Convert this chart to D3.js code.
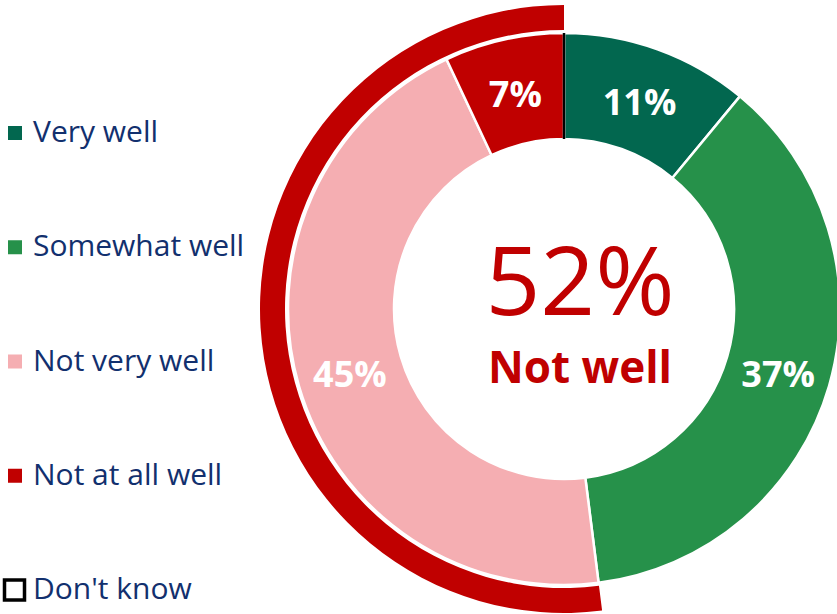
<!DOCTYPE html>
<html>
<head>
  <meta charset="utf-8">
  <title>Not well</title>
  <script src="https://d3js.org/d3.v7.min.js"></script>
  <style>
    body { margin: 0; background: #fff; }
    svg { display: block; }
  </style>
</head>
<body>
<svg width="837" height="614"></svg>
<script>
  const categories = ['Very well', 'Somewhat well', 'Not very well', 'Not at all well', "Don't know"];
  const values = [11, 37, 45, 7, 0];
  const colors = ['#02674f', '#26914a', '#f5aeb2', '#c00000', '#ffffff'];
  const totalLabel = '52%';
  const totalCaption = 'Not well';

  const svg = d3.select('svg');
  const cx = 564, cy = 309;
  const inner = 170, outer = 276;

  const data = categories.map((c, i) => ({ cat: c, value: values[i], color: colors[i] }));

  const pie = d3.pie().value(d => d.value).sort(null);
  const arcs = pie(data);
  const arc = d3.arc().innerRadius(inner).outerRadius(outer);

  const g = svg.append('g').attr('transform', `translate(${cx},${cy})`);

  g.selectAll('path.slice')
    .data(arcs.filter(d => d.data.value > 0))
    .enter().append('path')
    .attr('class', 'slice')
    .attr('d', arc)
    .attr('fill', d => d.data.color)
    .attr('stroke', '#fff')
    .attr('stroke-width', 2.5);

  // don't know slice is zero; shows as a black edge at the top
  g.append('line')
    .attr('x1', 0).attr('x2', 0)
    .attr('y1', -inner).attr('y2', -outer)
    .attr('stroke', '#000')
    .attr('stroke-width', 2.5);

  // outer ring around the "not well" slices
  const notWell = arcs.filter(d => d.data.cat === 'Not very well' || d.data.cat === 'Not at all well');
  g.append('path')
    .attr('d', d3.arc().innerRadius(279).outerRadius(304)({
      startAngle: d3.min(notWell, d => d.startAngle),
      endAngle: d3.max(notWell, d => d.endAngle)
    }))
    .attr('fill', '#c00000');

  const labelArc = d3.arc().innerRadius(inner).outerRadius(outer);
  g.selectAll('text.pct')
    .data(arcs.filter(d => d.data.value > 0))
    .enter().append('text')
    .attr('class', 'pct')
    .attr('transform', d => {
      const c = labelArc.centroid(d);
      return `translate(${c[0]},${c[1] + 6})`;
    })
    .attr('text-anchor', 'middle')
    .attr('dominant-baseline', 'middle')
    .attr('fill', '#fff')
    .attr('font-family', 'Open Sans, sans-serif')
    .attr('font-weight', 'bold')
    .attr('font-size', 36)
    .text(d => d.data.value + '%');

  g.append('text')
    .attr('x', 16).attr('y', 6)
    .attr('text-anchor', 'middle')
    .attr('fill', '#c00000')
    .attr('font-family', 'Open Sans, sans-serif')
    .attr('font-size', 96)
    .text(totalLabel);

  g.append('text')
    .attr('x', 16).attr('y', 74)
    .attr('text-anchor', 'middle')
    .attr('fill', '#c00000')
    .attr('font-family', 'Open Sans, sans-serif')
    .attr('font-weight', 'bold')
    .attr('font-size', 44)
    .text(totalCaption);

  // legend
  const ly = d3.scalePoint().domain(categories).range([133, 590]);
  const leg = svg.append('g').selectAll('g')
    .data(data)
    .enter().append('g')
    .attr('transform', d => `translate(0,${ly(d.cat)})`);

  leg.append('rect')
    .attr('x', d => d.value > 0 ? 8 : 4.5)
    .attr('y', d => d.value > 0 ? -7 : -10)
    .attr('width', d => d.value > 0 ? 14 : 20)
    .attr('height', d => d.value > 0 ? 14 : 20)
    .attr('fill', d => d.color)
    .attr('stroke', d => d.value > 0 ? 'none' : '#000')
    .attr('stroke-width', 3.5);

  leg.append('text')
    .attr('x', 33)
    .attr('y', 1)
    .attr('dominant-baseline', 'middle')
    .attr('fill', '#12306e')
    .attr('font-family', 'Open Sans, sans-serif')
    .attr('font-size', 30)
    .text(d => d.cat);
</script>
</body>
</html>
